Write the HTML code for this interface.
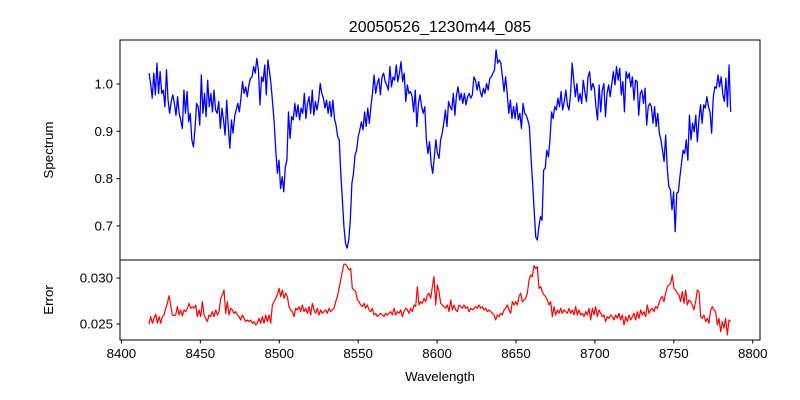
<!DOCTYPE html>
<html><head><meta charset="utf-8"><style>
body{margin:0;background:#fff}
svg{display:block;font-family:"Liberation Sans","DejaVu Sans",sans-serif}
</style></head><body>
<svg id="chart" width="800" height="400" viewBox="0 0 800 400">
<rect width="800" height="400" fill="#fff"/>
<text x="440" y="32" text-anchor="middle" font-size="16">20050526_1230m44_085</text>
<g id="topPanel"></g>
<g id="botPanel"></g>
<text x="440" y="381" text-anchor="middle" font-size="13.3">Wavelength</text>
<text transform="translate(53,150) rotate(-90)" text-anchor="middle" font-size="13.3">Spectrum</text>
<text transform="translate(53,300) rotate(-90)" text-anchor="middle" font-size="13.3">Error</text>
</svg>
<script>
const wlStart = 8417.5;
const wlEnd = 8786;
const xTicks = [8400,8450,8500,8550,8600,8650,8700,8750,8800];
const specTicks = [0.7,0.8,0.9,1.0];
const specTickLabels = ["0.7","0.8","0.9","1.0"];
const errTicks = [0.025,0.030];
const errTickLabels = ["0.025","0.030"];
const spectrum = [1.023,1.001,0.970,1.023,0.977,1.044,0.980,1.026,0.980,0.987,0.952,1.030,0.966,0.938,0.963,0.977,0.959,0.934,0.973,0.938,0.924,0.906,0.987,0.938,0.984,0.920,0.938,0.882,0.867,0.906,0.959,0.952,0.913,1.019,0.938,0.980,0.931,1.008,0.952,0.980,0.941,0.987,0.945,0.938,0.963,0.906,0.949,0.924,0.892,0.966,0.910,0.864,0.924,0.896,0.931,0.945,0.959,0.941,0.970,1.005,0.980,0.994,0.973,0.998,1.012,1.015,1.037,1.023,1.054,1.030,0.956,1.015,1.005,1.040,0.977,1.051,1.026,0.998,0.959,0.917,0.857,0.811,0.839,0.779,0.804,0.772,
0.825,0.839,0.941,0.885,0.931,0.924,0.959,0.931,0.956,0.924,0.949,0.938,0.980,0.927,0.959,0.973,0.938,0.987,0.934,0.963,0.945,0.966,1.001,0.980,0.970,0.949,0.966,0.938,0.963,0.931,0.966,0.927,0.913,0.889,0.882,0.811,0.755,0.698,0.663,0.653,0.670,0.712,0.790,0.811,0.850,0.860,0.889,0.903,0.920,0.903,0.941,0.910,0.949,0.917,0.952,0.980,1.019,0.980,1.001,1.012,0.977,1.015,1.023,1.005,0.998,0.987,1.037,0.994,1.015,1.008,1.040,1.005,1.023,1.047,1.005,1.023,0.963,0.998,0.980,0.984,0.973,0.941,0.987,0.910,0.959,0.977,0.952,0.938,0.952,0.882,0.853,0.878,0.832,0.811,0.846,0.882,0.853,0.843,0.882,
0.896,0.917,0.945,0.910,0.963,0.952,0.945,0.980,0.934,0.977,0.994,0.966,0.980,0.959,0.980,0.956,0.973,0.980,0.970,0.977,1.015,1.008,0.987,1.005,0.984,0.973,0.991,0.980,1.001,0.987,1.012,1.015,1.023,1.030,1.072,1.044,1.051,1.044,1.015,0.984,1.015,0.980,0.938,0.966,0.927,0.952,0.927,0.959,0.924,0.938,0.906,0.959,0.938,0.934,0.924,0.910,0.846,0.793,0.734,0.677,0.670,0.698,0.720,0.712,0.818,0.822,0.860,0.846,0.882,0.941,0.927,0.952,0.945,0.970,0.952,0.984,0.945,0.963,0.987,0.956,0.945,0.980,1.044,1.008,0.973,1.001,0.963,0.980,0.959,1.008,0.984,0.963,1.015,1.026,0.987,1.001,0.991,0.952,0.924,0.998,0.941,
0.987,1.001,0.931,0.980,0.998,0.973,1.001,1.026,0.998,1.037,1.008,1.033,0.977,1.005,0.941,1.026,1.012,1.023,0.994,1.015,0.966,1.008,1.005,0.934,0.980,0.987,0.959,0.991,0.913,0.952,0.959,0.952,0.917,0.952,0.910,0.938,0.896,0.882,0.860,0.836,0.892,0.822,0.783,0.776,0.734,0.772,0.688,0.769,0.772,0.804,0.832,0.860,0.853,0.882,0.839,0.934,0.882,0.917,0.899,0.934,0.878,0.924,0.956,0.917,0.956,0.949,0.973,0.952,0.941,0.896,0.970,0.994,0.991,1.019,0.994,1.015,0.980,0.963,1.012,0.952,1.040,0.941];
const errors = [.02497,.02580,.02508,.02562,.02606,.02508,.02580,.02508,.02580,.02598,.02671,.02725,.02808,.02707,.02598,.02591,.02598,.02689,.02598,.02653,.02588,.02653,.02635,.02671,.02725,.02671,.02689,.02671,.02707,.02580,.02653,.02580,.02743,.02598,.02562,.02526,.02598,.02580,.02635,.02580,.02653,.02598,.02635,.02779,.02816,.02870,.02616,.02743,.02598,.02671,.02653,.02616,.02635,.02598,.02580,.02544,.02598,.02562,.02526,.02544,.02526,.02544,.02508,.02526,.02490,.02508,.02562,.02508,.02580,.02508,.02598,.02526,.02598,.02508,.02707,.02743,.02779,.02816,.02888,.02798,.02870,.02779,.02834,.02798,.02689,.02653,.02635,.02580,.02671,.02653,.02689,.02635,.02707,.02635,.02671,.02616,.02689,.02598,.02725,.02653,.02616,.02671,.02598,.02653,.02616,.02635,.02653,.02616,.02671,.02635,.02653,.02671,.02743,.02798,.02888,.02978,.03069,.03152,.03149,.03123,.03087,.03105,.02888,.02870,.02852,.02761,.02743,.02707,.02689,.02725,.02671,.02707,.02653,.02635,.02671,.02598,.02616,.02580,.02598,.02616,.02598,.02580,.02616,.02598,.02616,.02635,.02598,.02671,.02598,.02635,.02616,.02653,.02580,.02635,.02671,.02653,.02616,.02671,.02635,.02707,.02689,.02906,.02707,.02743,.02725,.02779,.02743,.02816,.02834,.02779,.02906,.03015,.02707,.02924,.02852,
.02725,.02707,.02689,.02671,.02707,.02635,.02761,.02653,.02707,.02653,.02635,.02707,.02689,.02671,.02707,.02671,.02689,.02635,.02671,.02653,.02671,.02689,.02671,.02707,.02671,.02689,.02653,.02671,.02635,.02653,.02635,.02616,.02598,.02544,.02598,.02580,.02616,.02598,.02653,.02671,.02707,.02653,.02616,.02743,.02707,.02743,.02707,.02798,.02834,.02743,.02761,.02779,.02834,.02978,.03033,.03015,.03134,.03105,.03123,.02888,.02906,.02852,.02816,.02798,.02761,.02707,.02743,.02580,.02689,.02598,.02653,.02616,.02671,.02616,.02653,.02635,.02616,.02671,.02616,.02653,.02598,.02689,.02598,.02653,.02598,.02616,.02580,.02635,.02598,.02671,.02544,.02671,.02598,.02689,.02580,.02653,.02616,.02580,.02598,.02526,.02580,.02562,.02598,.02580,.02544,.02598,.02562,.02616,.02544,.02598,.02490,.02580,.02526,.02598,.02544,.02580,.02616,.02544,.02635,.02562,.02653,.02598,.02635,.02580,.02707,.02616,.02653,.02671,.02635,.02689,.02671,.02725,.02779,.02798,.02743,.02834,.02906,.02924,.02942,.03033,.02888,.02870,.02834,.02816,.02743,.02852,.02725,.02870,.02707,.02761,.02743,.02707,.02653,.02743,.02870,.02852,.02580,.02562,.02598,.02526,.02562,.02508,.02653,.02689,.02653,.02635,.02490,.02562,.02417,.02526,.02454,.02562,.02381,.02544,.02526];

const NS = "http://www.w3.org/2000/svg";
const L = 120, R = 760;
const xMin = 8399.1, xMax = 8804.6;
const xs = v => L + (v - xMin) / (xMax - xMin) * (R - L);
const topT = 40, topB = 260, sMin = 0.628, sMax = 1.093;
const ys = v => topB - (v - sMin) / (sMax - sMin) * (topB - topT);
const botT = 260, botB = 340, eMin = 0.02326, eMax = 0.03196;
const ye = v => botB - (v - eMin) / (eMax - eMin) * (botB - botT);
const wl = (i, n) => wlStart + i * (wlEnd - wlStart) / (n - 1);

function mk(tag, attrs, parent) {
  const el = document.createElementNS(NS, tag);
  for (const k in attrs) el.setAttribute(k, attrs[k]);
  parent.appendChild(el);
  return el;
}
const topG = document.getElementById('topPanel');
const botG = document.getElementById('botPanel');

let d1 = spectrum.map((v, i) => (i ? 'L' : 'M') + xs(wl(i, spectrum.length)).toFixed(2) + ' ' + ys(v).toFixed(2)).join('');
const p1 = mk('path', {d: d1, fill: 'none', stroke: '#0000ff', 'stroke-width': 1.3, 'stroke-linejoin': 'round'}, topG);


let d2 = errors.map((v, i) => (i ? 'L' : 'M') + xs(wl(i, errors.length)).toFixed(2) + ' ' + ye(v).toFixed(2)).join('');
const p2 = mk('path', {d: d2, fill: 'none', stroke: '#ff0000', 'stroke-width': 1.2, 'stroke-linejoin': 'round'}, botG);



const f1 = mk('rect', {x: L, y: topT, width: R - L, height: topB - topT, fill: 'none', stroke: '#000', 'stroke-width': 1}, topG);


const f2 = mk('rect', {x: L, y: botT, width: R - L, height: botB - botT, fill: 'none', stroke: '#000', 'stroke-width': 1}, botG);



specTicks.forEach((v, i) => {
  const y = ys(v);
  const t = mk('line', {x1: L - 3.5, x2: L, y1: y, y2: y, stroke: '#000'}, topG);
  
  
  const tx = mk('text', {x: L - 7, y: y + 4.5, 'text-anchor': 'end', 'font-size': 13.3}, topG);
  tx.textContent = specTickLabels[i];
  
  
});
errTicks.forEach((v, i) => {
  const y = ye(v);
  const t = mk('line', {x1: L - 3.5, x2: L, y1: y, y2: y, stroke: '#000'}, botG);
  
  
  const tx = mk('text', {x: L - 7, y: y + 4.5, 'text-anchor': 'end', 'font-size': 13.3}, botG);
  tx.textContent = errTickLabels[i];
  
  
});
xTicks.forEach(v => {
  const x = xs(v);
  const t = mk('line', {x1: x, x2: x, y1: botB, y2: botB + 3.5, stroke: '#000'}, botG);
  
  
  const tx = mk('text', {x: x, y: botB + 18, 'text-anchor': 'middle', 'font-size': 13.3}, botG);
  tx.textContent = String(v);
  
  
});
</script>
</body></html>
